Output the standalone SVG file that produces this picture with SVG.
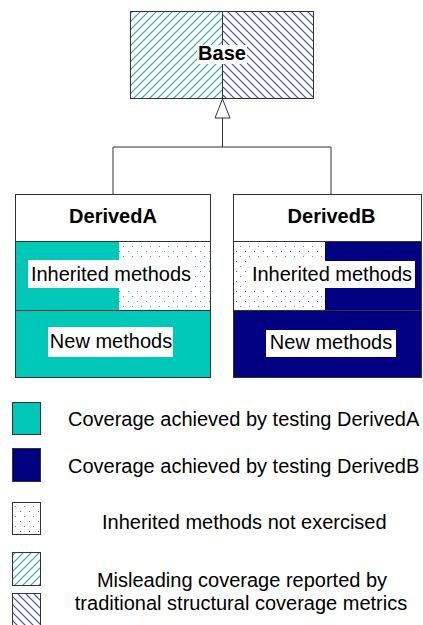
<svg xmlns="http://www.w3.org/2000/svg" width="423" height="625" viewBox="0 0 423 625">
<style>
.box{stroke:#333;stroke-width:1;}
.lbl{font-family:"Liberation Sans",Arial,sans-serif;font-size:20px;fill:#000;}
.hdr{font-family:"Liberation Sans",Arial,sans-serif;font-size:20px;font-weight:bold;fill:#000;text-anchor:middle;}
.mid{text-anchor:middle;}
.bg{fill:#fff;}
.line{stroke:#333;stroke-width:1;fill:none;}
</style>
<defs>
<pattern id="hatchA" width="8" height="8" patternUnits="userSpaceOnUse">
<rect width="8" height="8" fill="#fff"/>
<path d="M-1,9 L9,-1 M-3,3 L3,-3 M5,11 L11,5" stroke="#30a8a8" stroke-width="1.2"/>
</pattern>
<pattern id="hatchB" width="8" height="8" patternUnits="userSpaceOnUse">
<rect width="8" height="8" fill="#fff"/>
<path d="M-1,-1 L9,9 M-3,5 L3,11 M5,-3 L11,3" stroke="#4848b8" stroke-width="1.2"/>
</pattern>
<pattern id="dotsA" width="9" height="10" patternUnits="userSpaceOnUse">
<rect width="9" height="10" fill="#fff"/>
<rect x="2" y="1" width="1" height="1" fill="#40b4b0"/>
<rect x="6" y="6" width="1" height="1" fill="#8080c8"/>
</pattern>
<pattern id="dotsB" width="9" height="10" patternUnits="userSpaceOnUse">
<rect width="9" height="10" fill="#fff"/>
<rect x="2" y="1" width="1" height="1" fill="#6060c0"/>
<rect x="6" y="6" width="1" height="1" fill="#8080d0"/>
</pattern>
</defs>

<g id="connectors">
<path class="line" d="M222.5,118 V147 M113,147 H331 M113,147 V194 M331,147 V194"/>
<polygon points="222.5,99 215,118 230,118" fill="#fff" stroke="#333" stroke-width="1"/>
</g>

<g id="Base">
<rect x="130" y="11" width="92.5" height="88" fill="url(#hatchA)"/>
<rect x="222.5" y="11" width="91.5" height="88" fill="url(#hatchB)"/>
<rect class="box" x="130.5" y="11.5" width="183" height="87" fill="none"/>
<line class="line" x1="222.5" y1="11" x2="222.5" y2="99"/>
<rect class="bg" x="197" y="45" width="50" height="19"/>
<text class="hdr" x="222" y="60">Base</text>
</g>

<g id="DerivedA">
<rect x="15" y="194" width="196" height="47" fill="#fff"/>
<rect x="15" y="241" width="104" height="69" fill="#00c8b8"/>
<rect x="119" y="241" width="92" height="69" fill="url(#dotsA)"/>
<rect x="15" y="310" width="196" height="68" fill="#00c8b8"/>
<rect class="box" x="15.5" y="194.5" width="195" height="183" fill="none"/>
<path class="line" d="M15,241.5 H211 M15,310.5 H211"/>
<text class="hdr" x="113" y="223">DerivedA</text>
<rect class="bg" x="28" y="260" width="165" height="28"/>
<text class="lbl mid" x="111" y="281">Inherited methods</text>
<rect class="bg" x="48" y="327" width="125" height="30"/>
<text class="lbl mid" x="111" y="348">New methods</text>
</g>

<g id="DerivedB">
<rect x="233" y="194" width="189" height="47" fill="#fff"/>
<rect x="233" y="241" width="92" height="69" fill="url(#dotsB)"/>
<rect x="325" y="241" width="97" height="69" fill="#000080"/>
<rect x="233" y="310" width="189" height="68" fill="#000080"/>
<rect class="box" x="233.5" y="194.5" width="188" height="183" fill="none"/>
<path class="line" d="M233,241.5 H422 M233,310.5 H422"/>
<text class="hdr" x="331.5" y="223">DerivedB</text>
<rect class="bg" x="249" y="261" width="166" height="27"/>
<text class="lbl mid" x="332" y="281">Inherited methods</text>
<rect class="bg" x="266" y="330" width="130" height="27"/>
<text class="lbl mid" x="331" y="349">New methods</text>
</g>

<g id="legend">
<rect class="box" x="12.5" y="402.5" width="28" height="32" fill="#00c8b8"/>
<text class="lbl" x="68" y="426">Coverage achieved by testing DerivedA</text>
<rect class="box" x="12.5" y="448.5" width="28" height="33" fill="#000080"/>
<text class="lbl" x="68" y="473">Coverage achieved by testing DerivedB</text>
<rect class="box" x="12.5" y="502.5" width="28" height="32" fill="url(#dotsB)"/>
<text class="lbl" x="102" y="529">Inherited methods not exercised</text>
<rect class="box" x="12.5" y="552.5" width="28" height="33" fill="url(#hatchA)"/>
<rect class="box" x="12.5" y="593.5" width="28" height="34" fill="url(#hatchB)"/>
<text class="lbl mid" x="242" y="587">Misleading coverage reported by</text>
<text class="lbl mid" x="241" y="610">traditional structural coverage metrics</text>
</g>
</svg>
